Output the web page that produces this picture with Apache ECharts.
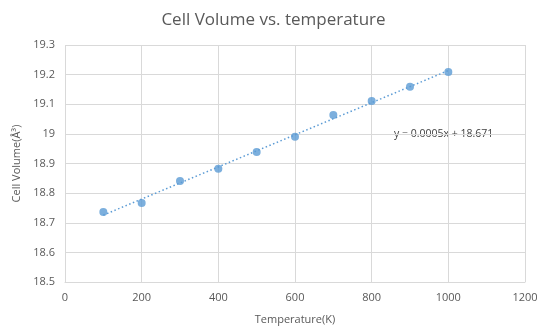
<!DOCTYPE html>
<html><head><meta charset="utf-8">
<script src="https://cdn.jsdelivr.net/npm/echarts@6/dist/echarts.min.js"></script>
<style>html,body{margin:0;padding:0;background:#fff}#c{width:547px;height:334px}</style>
</head><body><div id="c"></div>
<script>
var temperatures = [100, 200, 300, 400, 500, 600, 700, 800, 900, 1000];
var volumes = [18.736, 18.767, 18.841, 18.882, 18.939, 18.990, 19.064, 19.111, 19.159, 19.209];
var xTicks = [0, 200, 400, 600, 800, 1000, 1200];
var yTicks = [18.5, 18.6, 18.7, 18.8, 18.9, 19, 19.1, 19.2, 19.3];
var equationText = 'y = 0.0005x + 18.671';

// least-squares trendline from data
var n = temperatures.length, sx = 0, sy = 0, sxx = 0, sxy = 0;
for (var i = 0; i < n; i++) { sx += temperatures[i]; sy += volumes[i]; sxx += temperatures[i]*temperatures[i]; sxy += temperatures[i]*volumes[i]; }
var slope = (n*sxy - sx*sy) / (n*sxx - sx*sx);
var intercept = (sy - slope*sx) / n;
var x0 = temperatures[0], x1 = temperatures[n-1];
var trend = [[x0, intercept + slope*x0], [x1, intercept + slope*x1]];

var font = '"Open Sans", "Liberation Sans", sans-serif';
var chart = echarts.init(document.getElementById('c'));
chart.setOption({
  animation: false,
  title: { text: 'Cell Volume vs. temperature', left: 'center', top: 7,
    textStyle: { fontFamily: font, fontSize: 17, fontWeight: 'normal', color: '#595959' } },
  grid: { left: 65, right: 22, top: 45, bottom: 52 },
  xAxis: { type: 'value', min: 0, max: 1200, interval: 200,
    name: 'Temperature(K)', nameLocation: 'middle', nameGap: 32,
    nameTextStyle: { fontFamily: font, fontSize: 11, color: '#595959' },
    axisLine: { show: true, lineStyle: { color: '#d9d9d9' } },
    axisTick: { show: false },
    axisLabel: { fontFamily: font, fontSize: 11, color: '#595959', margin: 10,
      formatter: function (v) { return String(v); } },
    splitLine: { show: true, lineStyle: { color: '#d9d9d9' } } },
  yAxis: { type: 'value', min: 18.5, max: 19.3, interval: 0.1,
    name: 'Cell Volume(Å³)', nameLocation: 'middle', nameGap: 42,
    nameTextStyle: { fontFamily: font, fontSize: 11, color: '#595959' },
    axisLine: { show: false }, axisTick: { show: false },
    axisLabel: { fontFamily: font, fontSize: 11, color: '#595959', margin: 10,
      formatter: function (v) { return String(Math.round(v*10)/10); } },
    splitLine: { show: true, lineStyle: { color: '#d9d9d9' } } },
  series: [
    { type: 'line', data: trend, symbol: 'none', silent: true,
      lineStyle: { color: '#5b9bd5', width: 1.5, type: [1.5, 2.5] } },
    { type: 'scatter', data: temperatures.map(function (t, i) { return [t, volumes[i]]; }),
      symbolSize: 8, itemStyle: { color: '#5b9bd5' } }
  ],
  graphic: [{ type: 'text', left: 394, top: 129,
    style: { text: equationText, fontFamily: font, fontSize: 10.5, fill: '#404040' } }]
});
</script></body></html>
